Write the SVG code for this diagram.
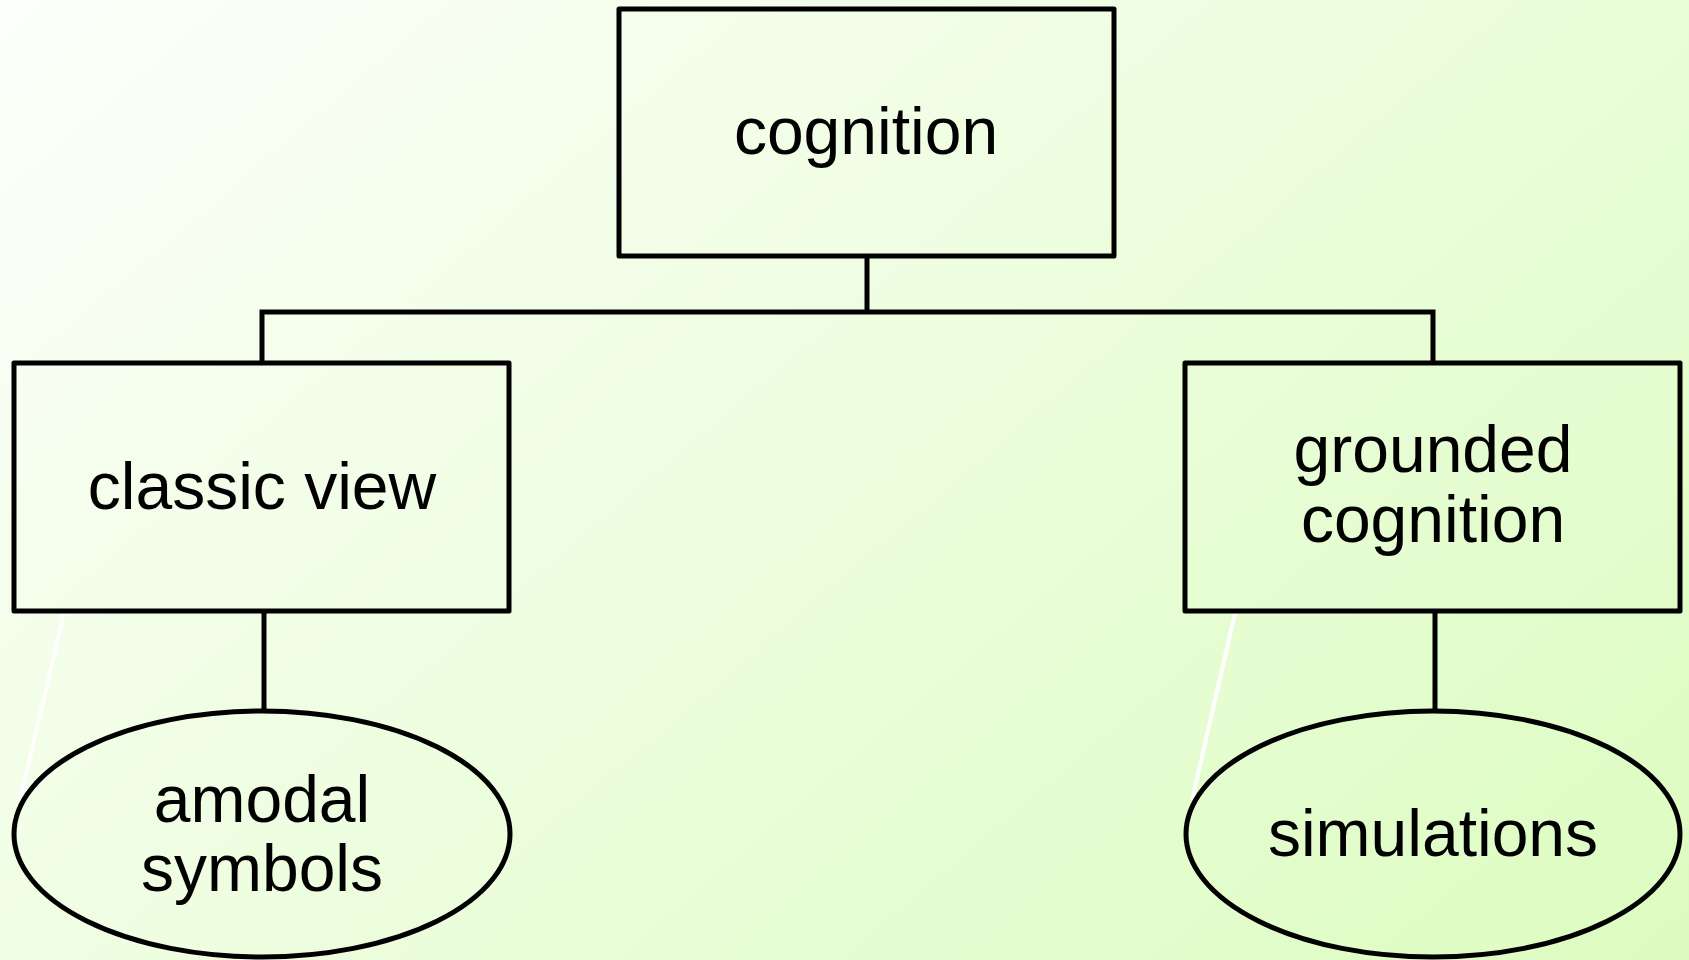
<svg xmlns="http://www.w3.org/2000/svg" width="1689" height="960" viewBox="0 0 1689 960">
<defs>
<linearGradient id="bg" x1="0" y1="0" x2="1185" y2="1390" gradientUnits="userSpaceOnUse">
<stop offset="0" stop-color="#fdfffb"/>
<stop offset="1" stop-color="#dcfcc0"/>
</linearGradient>
<style>
.box{fill:none;stroke:#000;stroke-width:5;stroke-linejoin:round}
.con{fill:none;stroke:#000;stroke-width:5}
.hl{fill:none;stroke:#ffffff;stroke-width:4}
text{font-family:"Liberation Sans",Arial,sans-serif;font-size:66px;fill:#000;text-anchor:middle}
</style>
</defs>
<rect x="0" y="0" width="1689" height="960" fill="url(#bg)"/>
<g id="highlights">
<line class="hl" x1="64" y1="613" x2="20" y2="800"/>
<line class="hl" x1="1235" y1="613" x2="1192" y2="800"/>
</g>
<g id="connectors">
<polyline class="con" points="867,256 867,312"/>
<polyline class="con" points="262,363 262,312 1433,312 1433,363"/>
<line class="con" x1="264" y1="611" x2="264" y2="711"/>
<line class="con" x1="1435" y1="611" x2="1435" y2="711"/>
</g>
<g id="node-cognition">
<rect class="box" x="619" y="9" width="495" height="247"/>
<text x="866" y="154">cognition</text>
</g>
<g id="node-classic">
<rect class="box" x="14" y="363" width="495" height="248"/>
<text x="262" y="509">classic view</text>
</g>
<g id="node-grounded">
<rect class="box" x="1185" y="363" width="495" height="248"/>
<text x="1433" y="472">grounded</text>
<text x="1433" y="542">cognition</text>
</g>
<g id="node-amodal">
<ellipse class="box" cx="262" cy="834" rx="248" ry="123"/>
<text x="262" y="822">amodal</text>
<text x="262" y="891">symbols</text>
</g>
<g id="node-simulations">
<ellipse class="box" cx="1433" cy="834" rx="247" ry="123"/>
<text x="1433" y="856">simulations</text>
</g>
</svg>
